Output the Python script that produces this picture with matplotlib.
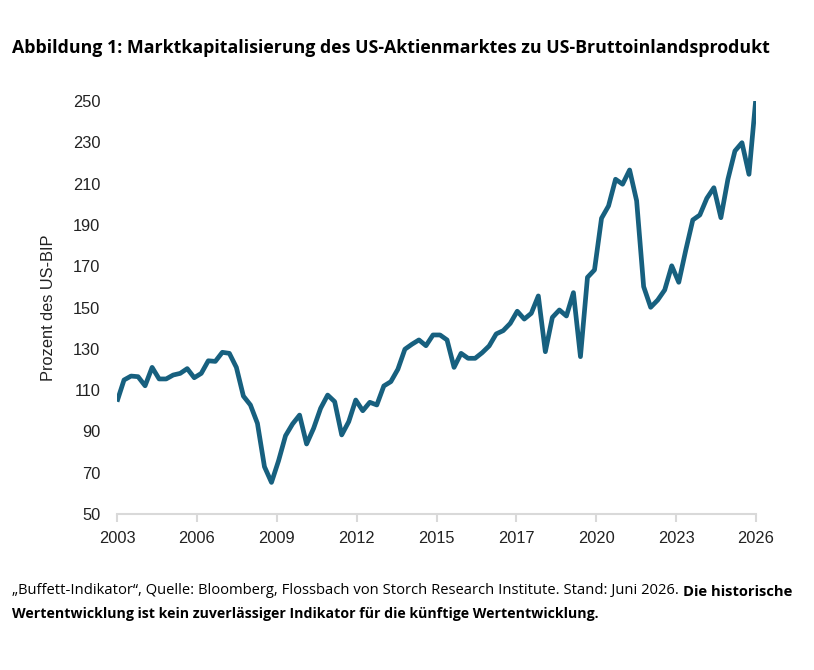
import numpy as np
import matplotlib
matplotlib.use("Agg")
import matplotlib.pyplot as plt

# Quarterly values, Q1 2003 to Q4 2025 (percent of US GDP)
start_year = 2003
buffett = [
    104.4, 114.9, 116.8, 116.5, 112.1, 121.0, 115.4, 115.4, 117.3, 118.1,
    120.4, 116.0, 118.1, 124.2, 123.9, 128.3, 127.8, 121.0, 107.1, 102.8,
    93.9, 72.9, 65.3, 75.7, 87.9, 93.6, 97.9, 83.9, 91.5, 101.2,
    107.6, 104.4, 88.3, 94.7, 105.2, 100.0, 104.1, 102.8, 112.0, 114.1,
    120.1, 129.8, 132.2, 134.3, 131.5, 136.7, 136.7, 134.3, 121.0, 127.8,
    125.4, 125.4, 128.1, 131.4, 137.2, 138.8, 142.3, 148.2, 144.4, 147.2,
    155.6, 128.6, 145.2, 148.8, 145.9, 157.2, 126.2, 164.6, 168.2, 193.2,
    199.2, 212.1, 209.7, 216.6, 201.7, 160.1, 150.1, 153.6, 158.5, 170.2,
    162.2, 177.8, 192.4, 194.8, 202.9, 208.0, 193.5, 212.1, 225.8, 229.8,
    214.5, 252.0,
]
x_labels = ["2003", "2006", "2009", "2012", "2015", "2017", "2020", "2023", "2026"]
y_ticks = [50, 70, 90, 110, 130, 150, 170, 190, 210, 230, 250]

title = "Abbildung 1: Marktkapitalisierung des US-Aktienmarktes zu US-Bruttoinlandsprodukt"
note_plain = "\u201eBuffett-Indikator\u201c, Quelle: Bloomberg, Flossbach von Storch Research Institute. Stand: Juni 2026. "
note_bold1 = "Die historische"
note_bold2 = "Wertentwicklung ist kein zuverl\u00e4ssiger Indikator f\u00fcr die k\u00fcnftige Wertentwicklung."

line_color = "#17607f"
axis_gray = "#d9d9d9"

W, H = 814, 670
fig = plt.figure(figsize=(W / 100, H / 100), dpi=100)
ax = fig.add_axes([117 / W, 1 - 514 / H, 639 / W, 413 / H])

years = start_year + np.arange(len(buffett)) / 4
ax.plot(years, buffett, color=line_color, lw=3.4, solid_joinstyle="round",
        solid_capstyle="butt")

ax.set_xlim(years[0], years[-1])
ax.set_ylim(50, 250)
ax.set_yticks(y_ticks)
ax.set_xticks(np.linspace(years[0], years[-1], len(x_labels)))
ax.set_xticklabels(x_labels)

for s in ["top", "right", "left"]:
    ax.spines[s].set_visible(False)
ax.spines["bottom"].set_color(axis_gray)
ax.spines["bottom"].set_linewidth(1.5)
ax.tick_params(axis="x", length=6, width=1.5, color=axis_gray, pad=6)
ax.tick_params(axis="y", length=0, pad=12)
for lab in ax.get_xticklabels() + ax.get_yticklabels():
    lab.set_fontfamily("Liberation Sans")
    lab.set_fontsize(11.8)
    lab.set_color("#222222")

ax.set_ylabel("Prozent des US-BIP", fontfamily="Liberation Sans", fontsize=11.8,
              color="#222222", labelpad=12)

fig.text(12 / W, 1 - 48 / H, title, fontfamily="Open Sans", fontweight="bold",
         fontsize=12.75, va="center", ha="left", color="black")

note_size = 10.6
t1 = fig.text(12 / W, 1 - 591 / H, note_plain, fontfamily="Open Sans",
              fontsize=note_size, va="center", ha="left", color="black")
fig.canvas.draw()
ax.annotate(note_bold1, xy=(1, 0), xycoords=t1, va="bottom", ha="left",
            fontfamily="Open Sans", fontweight="bold", fontsize=note_size,
            color="black", annotation_clip=False)
fig.text(12 / W, 1 - 614 / H, note_bold2, fontfamily="Open Sans", fontweight="bold",
         fontsize=10.2, va="center", ha="left", color="black")

fig.savefig("out.png", dpi=100)
